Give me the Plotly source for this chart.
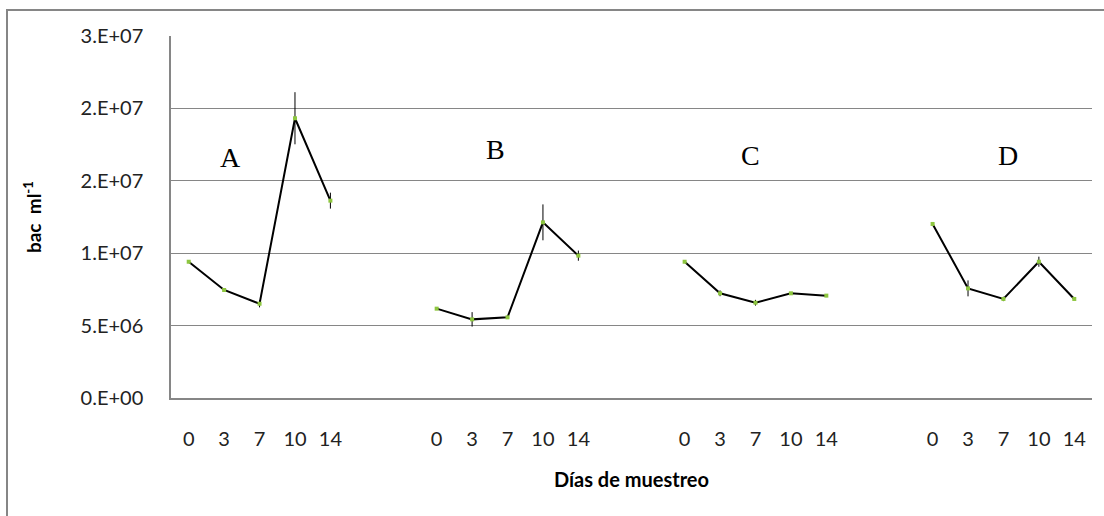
import plotly.graph_objects as go

days = ["0", "3", "7", "10", "14"]
groups = ["A", "B", "C", "D"]

val_A = [9.41e6, 7.46e6, 6.51e6, 1.932e7, 1.363e7]
val_B = [6.17e6, 5.43e6, 5.57e6, 1.213e7, 9.83e6]
val_C = [9.41e6, 7.23e6, 6.58e6, 7.23e6, 7.07e6]
val_D = [1.202e7, 7.57e6, 6.84e6, 9.41e6, 6.84e6]

err_A = [0.5e5, 0.5e5, 2.5e5, 1.8e6, 5.5e5]
err_B = [0.5e5, 5.0e5, 0.5e5, 1.24e6, 3.5e5]
err_C = [0.5e5, 2.0e5, 2.0e5, 0.5e5, 1.0e5]
err_D = [0.5e5, 5.5e5, 1.5e5, 3.5e5, 0.5e5]

y_tickvals = [0, 5e6, 1e7, 1.5e7, 2e7, 2.5e7]
y_ticktext = ["0.E+00", "5.E+06", "1.E+07", "2.E+07", "2.E+07", "3.E+07"]

series_vals = [val_A, val_B, val_C, val_D]
series_errs = [err_A, err_B, err_C, err_D]

GROUP_STEP = 7  # 5 days + 2 blank slots between groups
LETTER_POS = [(1.19, 1.664e7), (8.65, 1.713e7), (15.86, 1.678e7), (23.12, 1.678e7)]

fig = go.Figure()
tickvals, ticktext = [], []
for gi, (vals, errs) in enumerate(zip(series_vals, series_errs)):
    xs = [gi * GROUP_STEP + i for i in range(len(days))]
    tickvals += xs
    ticktext += days
    fig.add_trace(go.Scatter(
        x=xs, y=vals,
        mode="lines+markers",
        line=dict(color="black", width=2),
        marker=dict(symbol="square", size=4, color="#8DC63F", line=dict(width=0)),
        error_y=dict(type="data", array=errs, visible=True, color="black",
                     thickness=1, width=0),
        showlegend=False,
        hoverinfo="skip",
    ))

for g, (lx, ly) in zip(groups, LETTER_POS):
    fig.add_annotation(x=lx, y=ly, xref="x", yref="y", text=g, showarrow=False,
                       font=dict(family="Liberation Serif", size=28, color="black"))

# outer chart frame
fig.add_shape(type="rect", xref="paper", yref="paper",
              x0=(7 - 171) / 921, x1=(1115 - 171) / 921,
              y0=(398 - 530) / 362, y1=(398 - 10) / 362,
              line=dict(color="#868686", width=2), fillcolor="rgba(0,0,0,0)",
              layer="below")

fig.update_layout(
    width=1104, height=516,
    margin=dict(l=171, r=12, t=36, b=118),
    paper_bgcolor="white", plot_bgcolor="white",
    font=dict(family="Lato", size=19, color="#222222"),
    xaxis=dict(
        range=[-0.5, 25.5],
        tickmode="array", tickvals=tickvals, ticktext=ticktext,
        showgrid=False, zeroline=False,
        showline=True, linecolor="#868686", linewidth=1.5,
        ticks="", ticklabelstandoff=22,
        tickfont=dict(family="Lato", size=20, color="#222222"),
        title=dict(text="<b>Días de muestreo</b>", standoff=24,
                   font=dict(family="Lato", size=20, color="black")),
    ),
    yaxis=dict(
        range=[0, 2.5e7],
        tickmode="array", tickvals=y_tickvals, ticktext=y_ticktext,
        showgrid=True, gridcolor="#868686", gridwidth=1,
        zeroline=False,
        showline=True, linecolor="#868686", linewidth=1.5,
        ticks="", ticklabelstandoff=22,
        tickfont=dict(family="Lato", size=20, color="#222222"),
        title=dict(text="<b>bac  ml<sup>-1</sup></b>", standoff=34,
                   font=dict(family="Lato", size=19, color="black")),
    ),
)

fig.write_html("out.html")
